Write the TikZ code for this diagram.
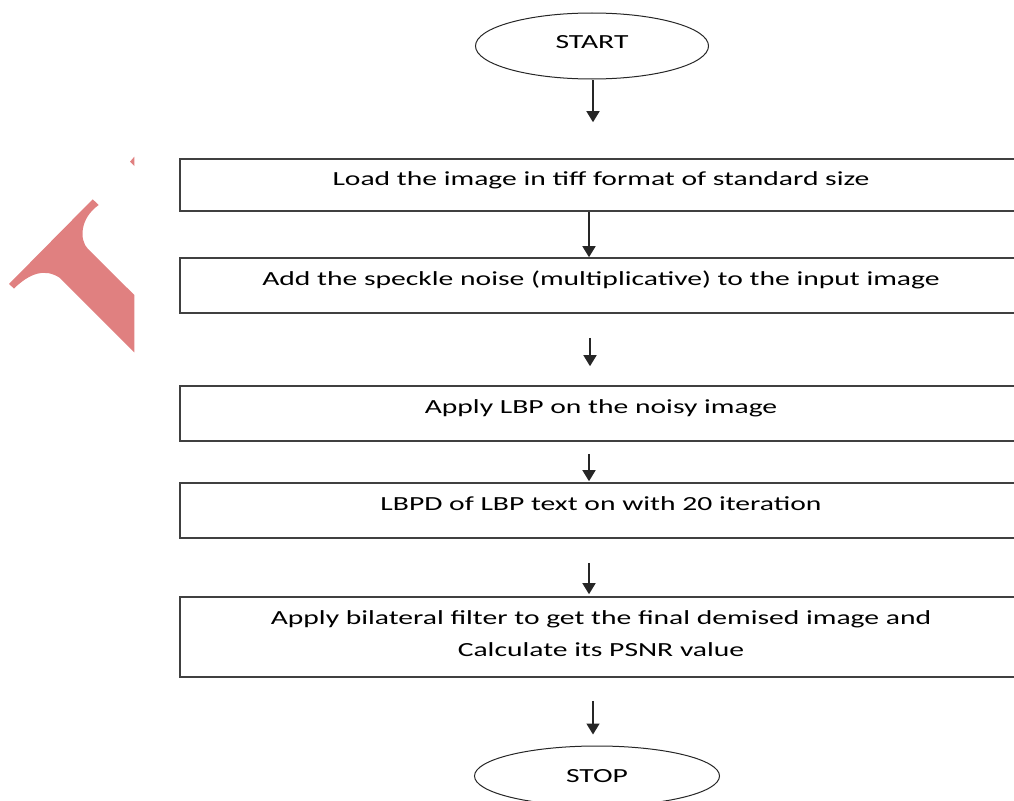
\documentclass[tikz,border=0pt]{standalone}
\usepackage{fontspec}
\setmainfont[FakeStretch=1.48]{Carlito}
\usetikzlibrary{arrows.meta,shapes.geometric}
\definecolor{wmred}{RGB}{224,128,128}
\definecolor{boxline}{RGB}{64,64,64}
\begin{document}
\begin{tikzpicture}[x=1pt,y=-1pt,
  procbox/.style={draw=boxline, line width=1.6pt, minimum width=842pt, inner sep=0pt,
    text height=10pt, text depth=10pt, font=\fontsize{20}{32}\selectfont},
  term/.style={ellipse, draw=black!85, line width=1pt, inner sep=0pt,
    font=\fontsize{20}{24}\selectfont},
  arr/.style={line width=1.5pt, draw=black!85, -{Triangle[length=11pt,width=13pt]}}]
\useasboundingbox (0,0) rectangle (1014,800);
\clip (0,0) rectangle (1014,800);
% watermark fragment
\fill[wmred] (9,284) -- (14,288.5) .. controls (30,273) and (45,268) .. (60,278)
  -- (134.3,352.3) -- (134.3,295) -- (88,249) .. controls (79,240) and (80,218) .. (98.7,205)
  -- (92.7,199.3) -- cycle;
\fill[wmred] (130,161.7) -- (134.3,156.7) -- (134.3,166) -- cycle;
% terminals
\node[term, minimum width=233pt, minimum height=66pt, text height=12pt, text depth=7pt] (start) at (592,46) {START};
\node[term, minimum width=245pt, minimum height=60pt, text height=14pt, text depth=2pt] (stop) at (597,776) {STOP};
% process boxes
\node[procbox, minimum height=52pt] (b1) at (601,185) {Load the image in tiff format of standard size};
\node[procbox, minimum height=55pt] (b2) at (601,285.5) {Add the speckle noise (multiplicative) to the input image};
\node[procbox, minimum height=55pt] (b3) at (601,413.5) {Apply LBP on the noisy image};
\node[procbox, minimum height=55pt] (b4) at (601,510.5) {LBPD of LBP text on with 20 iteration};
\node[procbox, minimum height=80pt, align=center, text height=, text depth=] (b5) at (601,637)
  {\rule{0pt}{15pt}Apply bilateral filter to get the final demised image and\\Calculate its PSNR value\rule[-9pt]{0pt}{9pt}};
% connectors
\draw[arr, shorten >=36pt] ([xshift=1pt]start.south) -- ([xshift=1pt]start.south |- b1.north);
\draw[arr] ([xshift=-12pt]b1.south) -- ([xshift=-12pt]b2.north);
\draw[arr, shorten <=24pt, shorten >=19pt] ([xshift=-11pt]b2.south) -- ([xshift=-11pt]b3.north);
\draw[arr, shorten <=12pt, shorten >=1pt] ([xshift=-12pt]b3.south) -- ([xshift=-12pt]b4.north);
\draw[arr, shorten <=24pt, shorten >=2pt] ([xshift=-12pt]b4.south) -- ([xshift=-12pt]b5.north);
\draw[arr, shorten <=23pt, shorten >=11pt] ([xshift=-8pt]b5.south) -- ([xshift=-8pt]b5.south |- stop.north);
\end{tikzpicture}
\end{document}
